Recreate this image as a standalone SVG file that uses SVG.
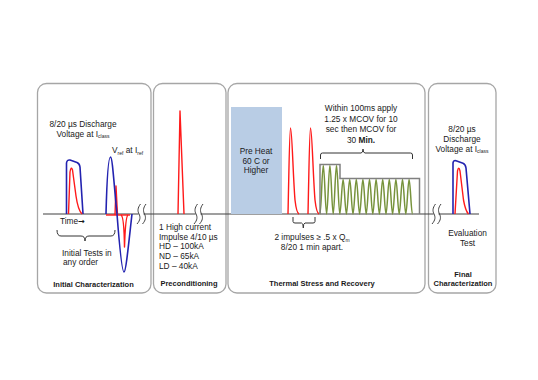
<svg xmlns="http://www.w3.org/2000/svg" width="538" height="380" viewBox="0 0 538 380">
<style>
.panel{fill:#fff;stroke:#a6a6a6;stroke-width:1.3}
.t{font-family:"Liberation Sans",Arial,sans-serif;font-size:8.3px;fill:#1a1a1a}
.b{font-family:"Liberation Sans",Arial,sans-serif;font-size:7.5px;font-weight:bold;fill:#1a1a1a}
.c{text-anchor:middle}
.sub{font-size:5px}
.blue{fill:none;stroke:#2323b0;stroke-width:1.6;stroke-linejoin:round}
.red{fill:none;stroke:#ff1a1a;stroke-width:1.4;stroke-linejoin:round}
.brace{fill:none;stroke:#333;stroke-width:1}
.axis{fill:none;stroke:#404040;stroke-width:1.2}
.brk{fill:none;stroke:#404040;stroke-width:1}
</style>
<defs>
<g id="break">
<rect x="1.5" y="-2" width="5" height="4" fill="#fff"/>
<path class="brk" d="M3.5,-10 C0.5,-6 0.5,-3 2,0 C3.5,3 3.5,6 0,10"/>
<path class="brk" d="M9,-10 C6,-6 6,-3 7.5,0 C9,3 9,6 5.5,10"/>
</g>
</defs>
<rect width="538" height="380" fill="#fff"/>
<g id="panel-initial">
<rect class="panel" x="37.5" y="83.5" width="113.5" height="209.5" rx="9"/>
</g>
<g id="panel-precond">
<rect class="panel" x="153.5" y="83.5" width="72.5" height="209.5" rx="9"/>
</g>
<g id="panel-thermal">
<rect class="panel" x="228" y="83.5" width="197" height="209.5" rx="9"/>
</g>
<g id="panel-final">
<rect class="panel" x="428.5" y="83.5" width="67.5" height="209.5" rx="9"/>
</g>
<g id="connectors">
<path class="axis" d="M43,214 H479"/>
<use href="#break" x="137" y="214"/>
<use href="#break" x="194" y="214"/>
<use href="#break" x="432" y="214"/>
</g>
<g id="initial-content">
<text class="t c" x="83" y="126.5">8/20 µs Discharge</text>
<text class="t c" x="83" y="136.5">Voltage at I<tspan class="sub" dy="1.5">class</tspan></text>
<text class="t" x="112" y="153">V<tspan class="sub" dy="1.5">ref</tspan><tspan dy="-1.5"> at I</tspan><tspan class="sub" dy="1.5">ref</tspan></text>
<path class="blue" d="M66.5,214 L66.5,163 Q67,159.5 70,160 L77,162.5 Q79.5,163.5 80,167 L83,214"/>
<path class="red" d="M68.5,214 L70,172 Q71,165.5 72.5,170 L76,196 Q78,210 82,214"/>
<path class="red" d="M106,215 H130"/>
<path class="red" d="M115,215 L116,186 L117.5,215"/>
<path class="red" d="M121,215 Q124,216 124.5,247 Q125.5,216 128,215"/>
<path class="blue" d="M106,214 C107,175 108.5,157 110.5,157 C112.5,157 114,185 117,214 C119,240 122,272 124,272 C126,272 129,240 132,214"/>
<text class="t" x="60" y="223.5">Time<tspan font-family="DejaVu Sans, sans-serif" font-weight="bold" font-size="8px">→</tspan></text>
<path class="brace" d="M57,230 Q57,236 61,236 L81,236 Q85,236 85,241 Q85,236 89,236 L111,236 Q115,236 115,230"/>
<text class="t" x="62" y="256">Initial Tests in</text>
<text class="t" x="63" y="265">any order</text>
<text class="b c" x="93.5" y="286.5">Initial Characterization</text>
</g>
<g id="precond-content">
<path class="red" d="M178,214 L180,111 L184,214"/>
<text class="t" x="159" y="230">1 High current</text>
<text class="t" x="159" y="239.5">Impulse  4/10 µs</text>
<text class="t" x="159" y="249.2">HD – 100kA</text>
<text class="t" x="159" y="258.8">ND – 65kA</text>
<text class="t" x="159" y="268.5">LD – 40kA</text>
<text class="b c" x="189" y="286">Preconditioning</text>
</g>
<g id="thermal-content">
<rect x="231" y="107" width="51" height="107" fill="#b9cde5"/>
<text class="t c" x="256" y="154">Pre Heat</text>
<text class="t c" x="256" y="163.5">60 C or</text>
<text class="t c" x="256" y="173">Higher</text>
<path class="red" d="M288,214 C289,170 289.5,128 290.5,128 C292,128 293,175 295,200 Q296.5,213 299,214"/>
<path class="red" d="M308,214 C309,170 309.5,128 310.5,128 C312,128 313,175 315,200 Q316.5,213 319,214"/>
<path d="M320,214 c1.2,0 2.1,-48.5 3.3,-48.5 c1.2,0 2.1,48.5 3.3,48.5 c1.2,0 2.1,-48.5 3.3,-48.5 c1.2,0 2.1,48.5 3.3,48.5 c1.2,0 2.1,-48.5 3.3,-48.5 c1.2,0 2.1,48.5 3.3,48.5 c1.2,0 2.1,-34.5 3.3,-34.5 c1.2,0 2.1,34.5 3.3,34.5 c1.2,0 2.1,-34.5 3.3,-34.5 c1.2,0 2.1,34.5 3.3,34.5 c1.2,0 2.1,-34.5 3.3,-34.5 c1.2,0 2.1,34.5 3.3,34.5 c1.2,0 2.1,-34.5 3.3,-34.5 c1.2,0 2.1,34.5 3.3,34.5 c1.2,0 2.1,-34.5 3.3,-34.5 c1.2,0 2.1,34.5 3.3,34.5 c1.2,0 2.1,-34.5 3.3,-34.5 c1.2,0 2.1,34.5 3.3,34.5 c1.2,0 2.1,-34.5 3.3,-34.5 c1.2,0 2.1,34.5 3.3,34.5 c1.2,0 2.1,-34.5 3.3,-34.5 c1.2,0 2.1,34.5 3.3,34.5 c1.2,0 2.1,-34.5 3.3,-34.5 c1.2,0 2.1,34.5 3.3,34.5 c1.2,0 2.1,-34.5 3.3,-34.5 c1.2,0 2.1,34.5 3.3,34.5 c1.2,0 2.1,-34.5 3.3,-34.5 c1.2,0 2.1,34.5 3.3,34.5" fill="none" stroke="#77933c" stroke-width="1.5"/>
<path d="M320,214 V164.5 H340 V178.5 H419.5 V214" fill="none" stroke="#808080" stroke-width="1.5"/>
<path class="brace" d="M320.5,159 L320.5,155 Q320.5,153 322.5,153 L361,153 Q363,153 363,149 Q363,153 365,153 L410.5,153 Q412.5,153 412.5,155 L412.5,159"/>
<text class="t c" x="361" y="111">Within 100ms apply</text>
<text class="t c" x="361" y="121.5">1.25 x MCOV for 10</text>
<text class="t c" x="361" y="132">sec then MCOV for</text>
<text class="t c" x="361" y="142.5">30 <tspan font-weight="bold">Min.</tspan></text>
<path class="brace" d="M293,217 L293,221.5 Q293,223 295,223 L301.5,223 Q303.3,223 303.3,228 Q303.3,223 305,223 L313,223 Q315,223 315,221.5 L315,217"/>
<text class="t c" x="312" y="240">2 impulses  ≥ .5 x Q<tspan class="sub" dy="1.5">m</tspan></text>
<text class="t c" x="312" y="250">8/20 1 min apart.</text>
<text class="b c" x="322" y="286">Thermal Stress and Recovery</text>
</g>
<g id="final-content">
<text class="t c" x="462" y="132">8/20 µs</text>
<text class="t c" x="462" y="141.5">Discharge</text>
<text class="t c" x="462" y="151.5">Voltage at I<tspan class="sub" dy="1.5">class</tspan></text>
<path class="blue" d="M453,214 L453,163 Q453.5,160 456,160.8 L463,163.3 Q465.5,164.3 466,168 L470,214"/>
<path class="red" d="M455,214 L457.5,171 Q458.7,165.5 460,171 L463.5,200 Q465.5,211 468.5,214"/>
<text class="t c" x="467.5" y="235.5">Evaluation</text>
<text class="t c" x="467.5" y="245.5">Test</text>
<text class="b c" x="463" y="277">Final</text>
<text class="b c" x="463" y="286">Characterization</text>
</g>
</svg>
